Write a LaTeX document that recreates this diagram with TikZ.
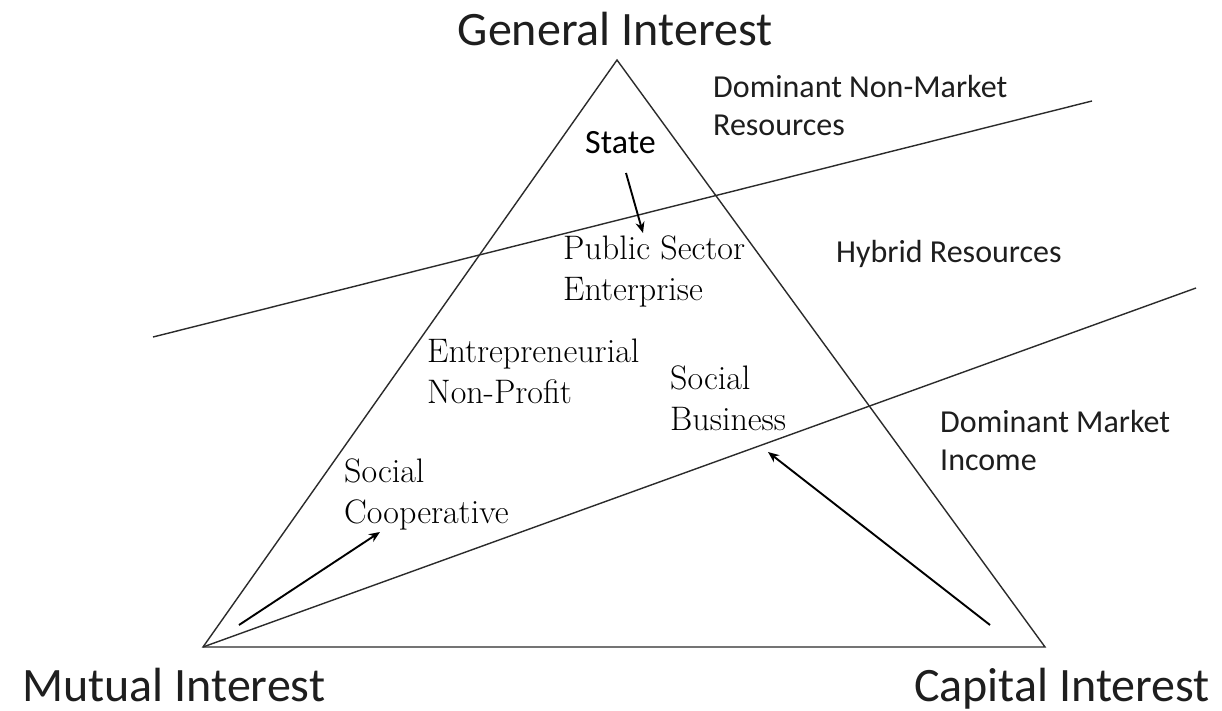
\documentclass[tikz,border=0pt]{standalone}
\usepackage{fontspec}
\newfontfamily\calib{Carlito}
\usetikzlibrary{arrows.meta}
\definecolor{linegray}{HTML}{2B2B2B}
\definecolor{textgray}{HTML}{1E1E1E}
\tikzset{
  bigsans/.style={font=\calib\fontsize{48}{56}\selectfont, text=textgray, inner sep=0pt},
  smallsans/.style={font=\calib\fontsize{32}{38}\selectfont, text=textgray, inner sep=0pt, align=left, anchor=base west},
  serifbox/.style={font=\fontsize{34}{41}\selectfont, text=black, inner sep=0pt, align=left, anchor=base west},
  edge/.style={draw=linegray, line width=1.4pt},
  pointer/.style={draw=black, line width=1.9pt, -{Stealth[length=11pt,width=9pt]}}
}
\begin{document}
\begin{tikzpicture}[x=1pt,y=-1pt]
\useasboundingbox[fill=white] (0,0) rectangle (1222,711);
% triangle
\coordinate (top) at (617,60);
\coordinate (bl) at (203,647);
\coordinate (br) at (1045,647);
\draw[edge, line join=miter] (top) -- (br) -- (bl) -- cycle;
% dividing lines
\coordinate (u1) at (153,337);
\coordinate (u2) at (1092,101);
\coordinate (l2) at (1196,288);
\draw[edge] (u1) -- (u2);
\draw[edge] (bl) -- (l2);
% corner labels
\node[bigsans, anchor=base] (gen) at (615,46) {General Interest};
\node[bigsans, anchor=base west] (mut) at (22,701) {Mutual Interest};
\node[bigsans, anchor=base east] (cap) at (1210,701) {Capital Interest};
% region labels (anchor = baseline of the last line)
\node[smallsans] (nonmarket) at (713,136) {Dominant Non-Market\\Resources};
\node[smallsans] (hybrid) at (836,262) {Hybrid Resources};
\node[smallsans] (market) at (940,470) {Dominant Market\\Income};
\node[smallsans, text=black, font=\calib\fontsize{34}{38}\selectfont] (state) at (585,154) {State};
% organisation labels
\node[serifbox] (pse) at (563,300) {Public Sector\\Enterprise};
\node[serifbox] (enp) at (427,403) {Entrepreneurial\\Non-Profit};
\node[serifbox] (sb) at (670,430) {Social\\Business};
\node[serifbox] (sc) at (344,523) {Social\\Cooperative};
% arrows
\coordinate (s1) at (626,173);
\coordinate (s2) at (643,233);
\coordinate (c1) at (239,625);
\coordinate (c2) at (380,532);
\coordinate (b1) at (990,625);
\coordinate (b2) at (768,452);
\draw[pointer] (s1) -- (s2);
\draw[pointer] (c1) -- (c2);
\draw[pointer] (b1) -- (b2);
\end{tikzpicture}
\end{document}
